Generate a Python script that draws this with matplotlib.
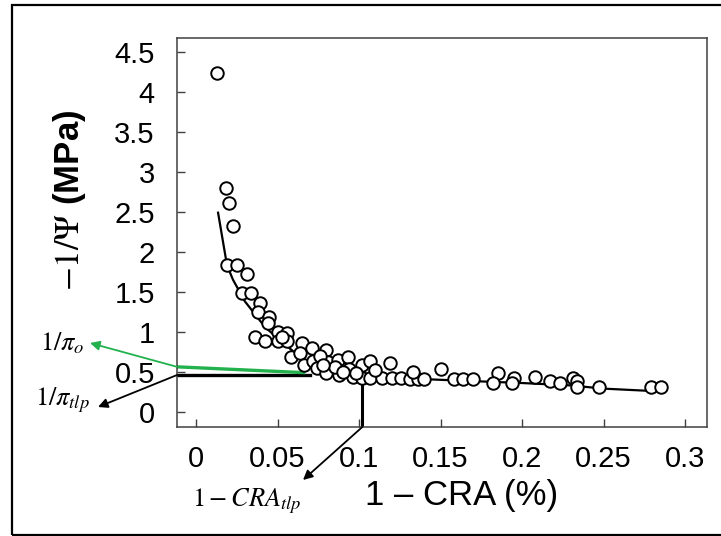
import matplotlib
matplotlib.use("Agg")
import matplotlib.pyplot as plt
from matplotlib.patches import Rectangle

# ---- data ----
cra_x = [0.0129, 0.0184, 0.0202, 0.0227, 0.019, 0.025, 0.031, 0.028, 0.034, 0.039,
         0.038, 0.045, 0.044, 0.050, 0.036, 0.042, 0.050, 0.056, 0.056, 0.065,
         0.058, 0.064, 0.071, 0.066, 0.072, 0.074, 0.080, 0.081, 0.080, 0.087,
         0.088, 0.093, 0.094, 0.096, 0.102, 0.107, 0.119, 0.102, 0.107, 0.114,
         0.120, 0.126, 0.131, 0.136, 0.140, 0.133, 0.150, 0.158, 0.164, 0.170,
         0.185, 0.182, 0.195, 0.194, 0.208, 0.217, 0.223, 0.231, 0.234, 0.234,
         0.247, 0.279, 0.285, 0.053, 0.076, 0.085, 0.090, 0.098, 0.110, 0.078]
inv_psi = [4.24, 2.80, 2.61, 2.33, 1.83, 1.83, 1.72, 1.49, 1.49, 1.36,
           1.25, 1.19, 1.11, 1.00, 0.94, 0.88, 0.88, 0.99, 0.88, 0.86,
           0.69, 0.74, 0.80, 0.59, 0.63, 0.55, 0.77, 0.62, 0.49, 0.65,
           0.46, 0.68, 0.53, 0.44, 0.59, 0.63, 0.61, 0.42, 0.42, 0.42,
           0.42, 0.42, 0.41, 0.41, 0.41, 0.50, 0.53, 0.41, 0.41, 0.41,
           0.49, 0.36, 0.42, 0.36, 0.43, 0.38, 0.36, 0.42, 0.38, 0.31,
           0.31, 0.31, 0.31, 0.93, 0.70, 0.56, 0.50, 0.48, 0.52, 0.58]

fit_x = [0.0135, 0.019, 0.0227, 0.03, 0.04, 0.044, 0.05, 0.06, 0.07, 0.08,
         0.09, 0.10, 0.15, 0.20, 0.23, 0.25, 0.28]
fit_y = [2.49, 1.83, 1.65, 1.38, 1.12, 1.03, 0.92, 0.75, 0.60, 0.52,
         0.47, 0.445, 0.40, 0.36, 0.33, 0.29, 0.26]

pi_o_line_x = [-0.0117, 0.066]
pi_o_line_y = [0.5625, 0.49]
pi_tlp = 0.46
cra_tlp = 0.102
x_ticks = [0, 0.05, 0.1, 0.15, 0.2, 0.25, 0.3]
x_tick_labels = ["0", "0.05", "0.1", "0.15", "0.2", "0.25", "0.3"]
y_ticks = [0, 0.5, 1, 1.5, 2, 2.5, 3, 3.5, 4, 4.5]
y_tick_labels = ["0", "0.5", "1", "1.5", "2", "2.5", "3", "3.5", "4", "4.5"]

plt.rcParams['font.family'] = ['Liberation Sans', 'DejaVu Sans']
plt.rcParams['mathtext.fontset'] = 'stix'

W, H = 721, 536
fig = plt.figure(figsize=(W / 100, H / 100), dpi=100)
fig.patches.append(Rectangle((12 / W, 1 - 535 / H), (740 - 12) / W, (535 - 5) / H,
                             transform=fig.transFigure, fill=False,
                             edgecolor='black', linewidth=1.6))

ax = fig.add_axes([177 / W, 1 - 427 / H, (707 - 177) / W, (427 - 38) / H])
xmin, xmax = -0.0117, 0.3135
ymin, ymax = -0.19, 4.675
ax.set_xlim(xmin, xmax)
ax.set_ylim(ymin, ymax)

# reference lines
ax.plot([xmin, 0.07], [pi_tlp, pi_tlp], color='black', lw=2.4, zorder=2)
ax.plot([cra_tlp, cra_tlp], [ymin, 0.43], color='black', lw=2.2, zorder=2)
ax.plot(pi_o_line_x, pi_o_line_y, color='#22b14c', lw=2.4, zorder=2)

# fitted curve
ax.plot(fit_x, fit_y, color='black', lw=1.6, zorder=3)
# data
ax.plot(cra_x, inv_psi, linestyle='none', marker='o', markersize=9,
        markerfacecolor='white', markeredgecolor='black', markeredgewidth=1.4, zorder=4)

ax.set_xticks(x_ticks)
ax.set_xticklabels(x_tick_labels)
ax.set_yticks(y_ticks)
ax.set_yticklabels(y_tick_labels)
ax.tick_params(axis='both', direction='in', length=6, width=1, labelsize=21,
               color='#404040')
ax.tick_params(axis='y', pad=16)
ax.tick_params(axis='x', pad=13)
for s in ax.spines.values():
    s.set_linewidth(1.1)
    s.set_color('#404040')

fig.text(70 / W, 1 - 200 / H, r'$-1/\Psi$ (MPa)', rotation=90, ha='center', va='center',
         fontsize=25, fontweight='bold')
fig.text(462 / W, 1 - 495 / H, '1 – CRA (%)', ha='center', va='center', fontsize=25)

# annotations
fig.text(62 / W, 1 - 343 / H, r'$1/\pi_o$', ha='center', va='center', fontsize=19)
fig.text(62 / W, 1 - 400 / H, r'$1/\pi_{tlp}$', ha='center', va='center', fontsize=19)
fig.text(247 / W, 1 - 501 / H, r'$1-CRA_{tlp}$', ha='center', va='center', fontsize=19)

arrow_kw = dict(arrowstyle='-|>', mutation_scale=14, lw=1.3, shrinkA=0, shrinkB=0)
ax.annotate('', xy=(90 / W, 1 - 343 / H), xycoords='figure fraction',
            xytext=(xmin, 0.5625), textcoords='data',
            arrowprops=dict(color='#22b14c', **arrow_kw), annotation_clip=False)
ax.annotate('', xy=(98 / W, 1 - 407 / H), xycoords='figure fraction',
            xytext=(xmin, pi_tlp), textcoords='data',
            arrowprops=dict(color='black', **arrow_kw), annotation_clip=False)
ax.annotate('', xy=(303 / W, 1 - 480 / H), xycoords='figure fraction',
            xytext=(cra_tlp, ymin), textcoords='data',
            arrowprops=dict(color='black', **arrow_kw), annotation_clip=False)

fig.savefig('out.png', dpi=100)
